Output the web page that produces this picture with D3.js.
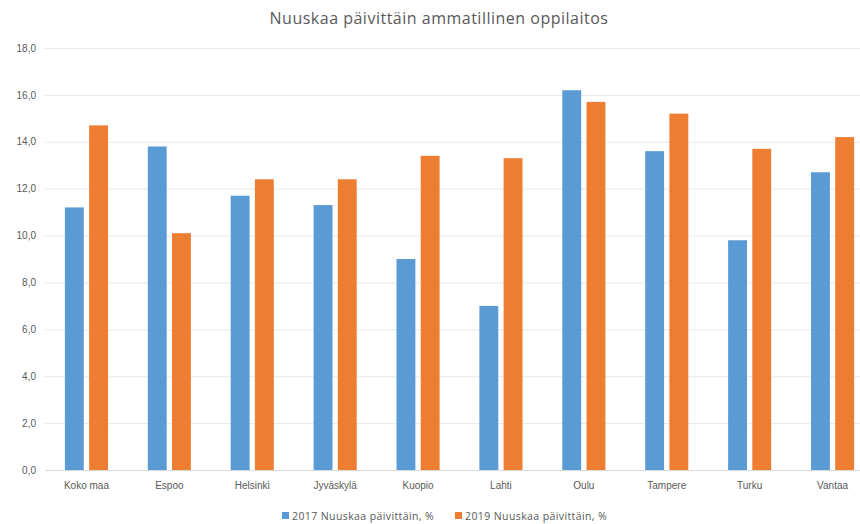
<!DOCTYPE html>
<html>
<head>
<meta charset="utf-8">
<script src="https://cdn.jsdelivr.net/npm/d3@7"></script>
<style>
  body { margin: 0; background: #fff; }
  svg { font-family: "Open Sans", "Noto Sans", sans-serif; }
</style>
</head>
<body>
<svg width="860" height="524"></svg>
<script>
var categories = ["Koko maa", "Espoo", "Helsinki", "Jyväskylä", "Kuopio", "Lahti", "Oulu", "Tampere", "Turku", "Vantaa"];
var seriesNames = ["2017 Nuuskaa päivittäin, %", "2019 Nuuskaa päivittäin, %"];
var values2017 = [11.2, 13.8, 11.7, 11.3, 9.0, 7.0, 16.2, 13.6, 9.8, 12.7];
var values2019 = [14.7, 10.1, 12.4, 12.4, 13.4, 13.3, 15.7, 15.2, 13.7, 14.2];
var yTicks = [0, 2, 4, 6, 8, 10, 12, 14, 16, 18];
var colours = ["#5B9BD5", "#ED7D31"];

var svg = d3.select("svg");
var plotLeft = 45, plotRight = 874, plotTop = 48, plotBottom = 470;

var x = d3.scaleBand().domain(categories).range([plotLeft, plotRight]).paddingInner(0.48).paddingOuter(0.24);
var x1 = d3.scaleBand().domain([0, 1]).range([0, x.bandwidth()]).paddingInner(0.22);
var y = d3.scaleLinear().domain([0, 18]).range([plotBottom, plotTop]);

var fmt = function(v) { return d3.format(".1f")(v).replace(".", ","); };

// gridlines
svg.append("g")
  .selectAll("line")
  .data(yTicks)
  .enter()
  .append("line")
  .attr("x1", plotLeft)
  .attr("x2", plotRight)
  .attr("y1", function(d) { return y(d) + 0.5; })
  .attr("y2", function(d) { return y(d) + 0.5; })
  .attr("stroke", function(d) { return d === 0 ? "#d9d9d9" : "#e8e8e8"; })
  .attr("stroke-width", 1);

// y axis labels
var yAxis = d3.axisLeft(y).tickValues(yTicks).tickFormat(fmt).tickSize(0).tickPadding(9);
svg.append("g")
  .attr("transform", "translate(" + plotLeft + ",0)")
  .call(yAxis)
  .call(function(g) { g.select(".domain").remove(); })
  .selectAll("text")
  .attr("fill", "#595959")
  .style("font-size", "10px");

// bars
var groups = svg.append("g")
  .selectAll("g")
  .data(categories)
  .enter()
  .append("g")
  .attr("transform", function(d) { return "translate(" + x(d) + ",0)"; });

groups.selectAll("rect")
  .data(function(d, i) { return [values2017[i], values2019[i]]; })
  .enter()
  .append("rect")
  .attr("x", function(d, j) { return x1(j); })
  .attr("width", x1.bandwidth())
  .attr("y", function(d) { return y(d); })
  .attr("height", function(d) { return y(0) - y(d); })
  .attr("fill", function(d, j) { return colours[j]; });

// x axis labels
var xAxis = d3.axisBottom(x).tickSize(0).tickPadding(12);
svg.append("g")
  .attr("transform", "translate(0," + plotBottom + ")")
  .call(xAxis)
  .call(function(g) { g.select(".domain").remove(); })
  .selectAll("text")
  .attr("fill", "#595959")
  .style("font-size", "10px");

// title
svg.append("text")
  .attr("x", 439)
  .attr("y", 24)
  .attr("text-anchor", "middle")
  .attr("fill", "#595959")
  .style("font-size", "16px")
  .style("letter-spacing", "0.5px")
  .text("Nuuskaa päivittäin ammatillinen oppilaitos");

// legend
var legendX = [282, 455];
var legend = svg.append("g")
  .selectAll("g")
  .data(seriesNames)
  .enter()
  .append("g")
  .attr("transform", function(d, i) { return "translate(" + legendX[i] + ",512)"; });

legend.append("rect")
  .attr("width", 7)
  .attr("height", 7)
  .attr("fill", function(d, i) { return colours[i]; });

legend.append("text")
  .attr("x", 10)
  .attr("y", 7.5)
  .attr("fill", "#595959")
  .style("font-size", "10.5px")
  .style("letter-spacing", "0.4px")
  .text(function(d) { return d; });
</script>
</body>
</html>
